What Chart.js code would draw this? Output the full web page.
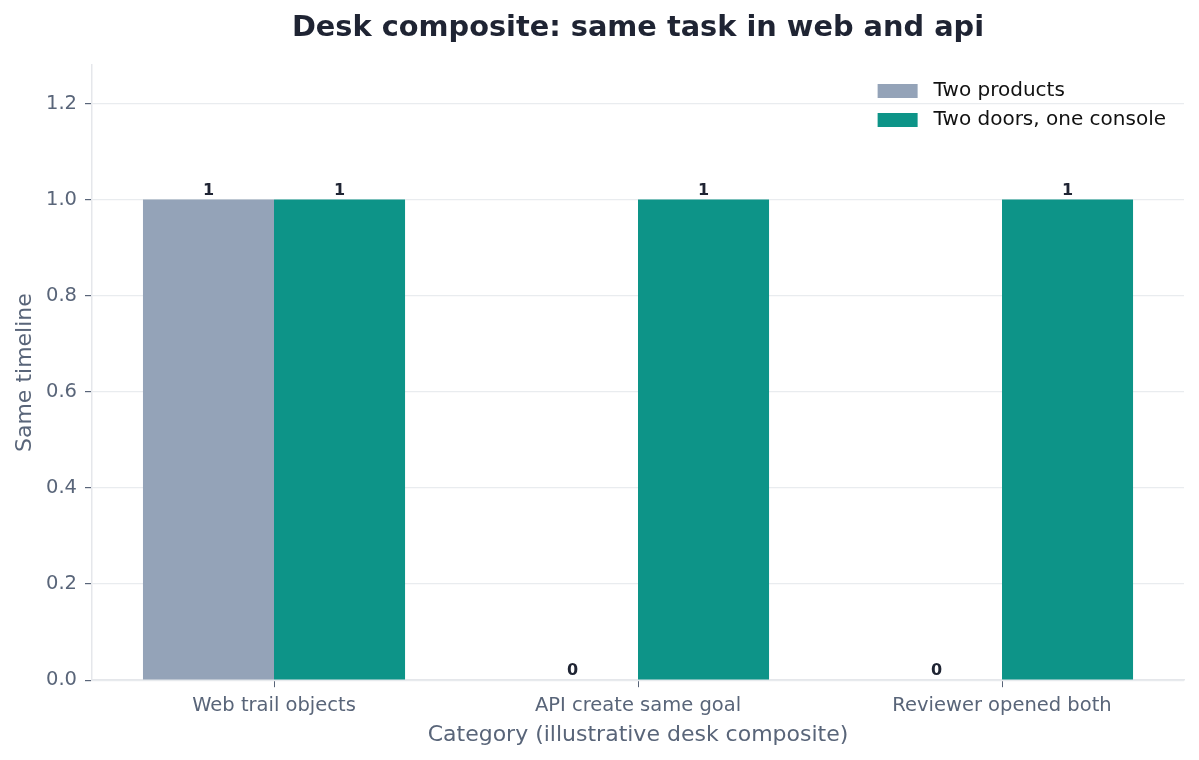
<!DOCTYPE html>
<html lang="en">
<head>
<meta charset="UTF-8">
<title>Desk composite: same task in web and api</title>
<script src="https://cdn.jsdelivr.net/npm/chart.js"></script>
<style>
    body { margin: 0; background: #ffffff; }
</style>
</head>
<body>

<div style="width: 1199px; height: 760px;">
    <canvas id="deskChart"></canvas>
</div>

<script>
    // data
    var categories = ['Web trail objects', 'API create same goal', 'Reviewer opened both'];
    var twoProducts = [1, 0, 0];
    var twoDoors = [1, 1, 1];
    var seriesNames = ['Two products', 'Two doors, one console'];
    var seriesColors = ['#94a3b8', '#0d9488'];
    var yTicks = [0, 0.2, 0.4, 0.6, 0.8, 1.0, 1.2];
    var chartTitle = 'Desk composite: same task in web and api';

    var FONT = "'DejaVu Sans', sans-serif";
    var tickColor = '#596579';

    // value labels above each bar
    var barLabels = {
        id: 'barLabels',
        afterDatasetsDraw: function(chart) {
            var ctx = chart.ctx;
            ctx.save();
            ctx.font = 'bold 16px ' + FONT;
            ctx.fillStyle = '#1f2433';
            ctx.textAlign = 'center';
            ctx.textBaseline = 'bottom';
            chart.data.datasets.forEach(function(ds, i) {
                chart.getDatasetMeta(i).data.forEach(function(bar, j) {
                    ctx.fillText(String(ds.data[j]), bar.x, bar.y - 1);
                });
            });
            ctx.restore();
        }
    };

    // title centred over the plot area, legend in its top right corner
    var titleAndLegend = {
        id: 'titleAndLegend',
        afterDraw: function(chart) {
            var ctx = chart.ctx;
            var area = chart.chartArea;
            ctx.save();
            ctx.font = 'bold 28.8px ' + FONT;
            ctx.fillStyle = '#1f2433';
            ctx.textAlign = 'center';
            ctx.textBaseline = 'middle';
            ctx.fillText(chartTitle, (area.left + area.right) / 2, 29);

            ctx.font = '20px ' + FONT;
            ctx.textAlign = 'left';
            var widest = 0;
            chart.data.datasets.forEach(function(ds) {
                widest = Math.max(widest, ctx.measureText(ds.label).width);
            });
            var x = area.right - 18 - widest - 16 - 40;
            chart.data.datasets.forEach(function(ds, i) {
                var y = area.top + 26 + i * 29;
                ctx.fillStyle = ds.backgroundColor;
                ctx.fillRect(x, y - 7, 40, 14);
                ctx.fillStyle = '#111111';
                ctx.fillText(ds.label, x + 56, y);
            });
            ctx.restore();
        }
    };

    var ctx = document.getElementById('deskChart').getContext('2d');

    var deskChart = new Chart(ctx, {
        type: 'bar',
        data: {
            labels: categories,
            datasets: [
                { label: seriesNames[0], data: twoProducts, backgroundColor: seriesColors[0] },
                { label: seriesNames[1], data: twoDoors, backgroundColor: seriesColors[1] }
            ]
        },
        options: {
            responsive: true,
            maintainAspectRatio: false,
            animation: false,
            categoryPercentage: 0.72,
            barPercentage: 1.0,
            layout: {
                padding: { left: 14, right: 15, top: 65, bottom: 12 }
            },
            plugins: {
                title: { display: false },
                legend: { display: false },
                tooltip: { enabled: false }
            },
            scales: {
                x: {
                    grid: {
                        display: true,
                        drawOnChartArea: false,
                        offset: false,
                        tickLength: 7,
                        tickColor: '#596579'
                    },
                    border: { color: '#e5e7eb', width: 1.5 },
                    ticks: {
                        color: tickColor,
                        font: { family: FONT, size: 19.5 },
                        padding: 7
                    },
                    title: {
                        display: true,
                        text: 'Category (illustrative desk composite)',
                        color: tickColor,
                        font: { family: FONT, size: 22 },
                        padding: { top: -3, bottom: 0 }
                    }
                },
                y: {
                    min: 0,
                    max: 1.28,
                    afterBuildTicks: function(scale) {
                        scale.ticks = yTicks.map(function(v) { return { value: v }; });
                    },
                    grid: {
                        color: '#e9ecef',
                        lineWidth: 1.2,
                        tickLength: 7,
                        tickColor: '#596579'
                    },
                    border: { color: '#e5e7eb', width: 1.5 },
                    ticks: {
                        color: tickColor,
                        font: { family: FONT, size: 19.5 },
                        padding: 8,
                        callback: function(v) { return Number(v).toFixed(1); }
                    },
                    title: {
                        display: true,
                        text: 'Same timeline',
                        color: tickColor,
                        font: { family: FONT, size: 22, lineHeight: 1 },
                        padding: { top: 0, bottom: 2 }
                    }
                }
            }
        },
        plugins: [barLabels, titleAndLegend]
    });
</script>

</body>
</html>
